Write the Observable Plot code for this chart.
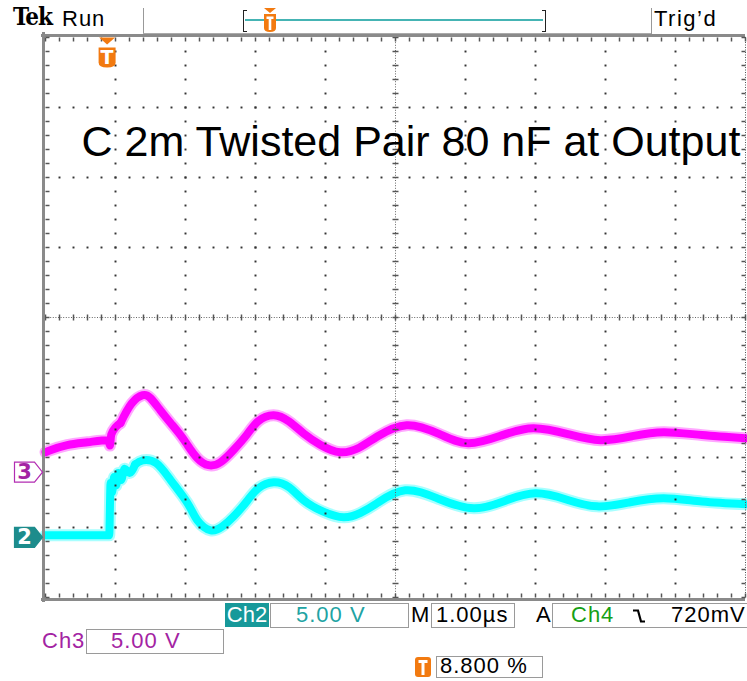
<!DOCTYPE html>
<html><head><meta charset="utf-8">
<script src="https://cdn.jsdelivr.net/npm/d3@7"></script>
<script src="https://cdn.jsdelivr.net/npm/@observablehq/plot@0.6"></script>
<style>
body{margin:0;background:#fff;}
#wrap{position:relative;width:747px;height:681px;overflow:hidden;font-family:"Liberation Sans",Arial,sans-serif;}
#wrap svg{position:absolute;left:0;top:0;}
.abs{position:absolute;white-space:nowrap;line-height:1;}
.box{position:absolute;border:1px solid #9a9a9a;box-sizing:border-box;background:#fff;}
.t{font-size:22px;letter-spacing:1px;}
</style></head><body><div id="wrap"></div>
<script>
// ---- scope settings ----
const timePerDiv = 1.0;        // µs / div
const voltsPerDiv = 5.0;       // V / div (Ch2 and Ch3)
const triggerPercent = 8.8;    // trigger position, % of record
const divisionsX = 10;
const divisionsY = 8;
const ch3Position = -2.21;     // ground marker "3", divisions from centre
const ch2Position = -3.14;     // ground marker "2", divisions from centre
const titleText = "C 2m Twisted Pair 80 nF at Output";

// ---- Ch3 (magenta) trace: time µs, volts ----
const ch3Time  = [-0.88,-0.81,-0.57,-0.28,0.02,0.04,0.06,0.19,0.35,0.51,0.62,0.76,0.91,1.05,1.15,1.29,1.45,1.62,1.81,2.00,2.16,2.38,2.60,2.81,3.05,3.33,3.60,3.86,4.28,4.75,5.16,5.62,6.09,6.60,7.05,7.50,7.95,8.50,9.12];
const ch3Volts = [1.43,1.57,1.93,2.14,2.29,1.90,2.70,3.50,4.90,5.50,5.29,4.43,3.50,2.64,1.93,1.00,0.50,0.71,1.60,2.70,3.65,4.07,3.62,2.76,1.95,1.43,1.75,2.55,3.36,2.72,2.07,2.60,3.14,2.70,2.29,2.57,2.86,2.65,2.43];
const ch3RingStart = 0.19;     // µs, where the smooth ringing begins

// ---- Ch2 (cyan) trace: time µs, volts ----
const ch2Time  = [-0.88,0.03,0.05,0.07,0.10,0.13,0.16,0.20,0.25,0.32,0.40,0.51,0.70,0.91,1.15,1.29,1.48,1.65,1.81,2.00,2.16,2.38,2.60,2.81,3.08,3.38,3.62,3.86,4.26,4.75,5.24,5.68,6.12,6.56,7.00,7.47,7.95,8.50,9.12];
const ch2Volts = [0.14,0.14,3.90,3.20,4.30,3.70,4.60,4.10,4.90,4.60,5.20,5.50,5.30,4.07,2.43,1.21,0.50,0.79,1.50,2.60,3.50,3.93,3.57,2.64,1.85,1.43,1.75,2.45,3.36,2.72,2.07,2.60,3.14,2.70,2.21,2.50,2.79,2.55,2.36];
const ch2RingStart = 0.40;

// ---- derived ----
const x0 = -triggerPercent / 100 * divisionsX * timePerDiv;
const x1 = x0 + divisionsX * timePerDiv;
const xc = x0 + divisionsX / 2 * timePerDiv;
const ch3 = ch3Time.map((t, i) => ({t, y: ch3Position + ch3Volts[i] / voltsPerDiv}));
const ch2 = ch2Time.map((t, i) => ({t, y: ch2Position + ch2Volts[i] / voltsPerDiv}));
const ch3Edge = ch3.filter(d => d.t <= ch3RingStart), ch3Ring = ch3.filter(d => d.t >= ch3RingStart);
const ch2Edge = ch2.filter(d => d.t <= ch2RingStart), ch2Ring = ch2.filter(d => d.t >= ch2RingStart);

const majorX = d3.range(0, divisionsX + 1).map(k => x0 + k * timePerDiv);
const minorX = d3.range(0, divisionsX * 5 + 1).map(k => x0 + k * timePerDiv / 5);
const majorY = d3.range(-divisionsY / 2, divisionsY / 2 + 1);
const minorY = d3.range(-divisionsY * 5 / 2, divisionsY * 5 / 2 + 1).map(k => k / 5);

const gridDots = [];
majorX.slice(1, -1).forEach((x, i) => { if (i + 1 === divisionsX / 2) return;
  minorY.slice(1, -1).forEach(y => { if (y !== 0) gridDots.push({x, y}); }); });
minorX.slice(1, -1).forEach(x => majorY.slice(1, -1).forEach(y => { if (y !== 0 && Math.abs(x - xc) > 1e-6) gridDots.push({x, y}); }));

const hDash = {draw(c, size) { const r = Math.sqrt(size / Math.PI); c.moveTo(-r, 0); c.lineTo(r, 0); }};
const vDash = {draw(c, size) { const r = Math.sqrt(size / Math.PI); c.moveTo(0, -r); c.lineTo(0, r); }};
const triDown = {draw(c, size) { const s = Math.sqrt(size / Math.PI) / 10; c.moveTo(-8 * s, -3.5 * s); c.lineTo(8 * s, -3.5 * s); c.lineTo(0, 3.5 * s); c.closePath(); }};
const shield = {draw(c, size) { const s = Math.sqrt(size / Math.PI) / 10;
  c.moveTo(-8.5 * s, -10 * s); c.lineTo(8.5 * s, -10 * s); c.lineTo(8.5 * s, 5 * s);
  c.quadraticCurveTo(8.5 * s, 10 * s, 0, 10 * s); c.quadraticCurveTo(-8.5 * s, 10 * s, -8.5 * s, 5 * s); c.closePath(); }};
const pent = {draw(c, size) { const s = Math.sqrt(size / Math.PI) / 10;
  c.moveTo(-14 * s, -10 * s); c.lineTo(6 * s, -10 * s); c.lineTo(14 * s, 0); c.lineTo(6 * s, 10 * s); c.lineTo(-14 * s, 10 * s); c.closePath(); }};

const ORANGE = "#f27a10";
const chMarkers = [
  {label: "3", y: ch3Position, fill: "#fff", stroke: "#b22cb2", text: "#a323a3"},
  {label: "2", y: ch2Position, fill: "#1d8c8c", stroke: "#1d8c8c", text: "#fff"}
];

function trace(edge, ring, halo, core) {
  return [
    Plot.line(edge, {x: "t", y: "y", stroke: halo, strokeWidth: 12, curve: "monotone-x"}),
    Plot.line(ring, {x: "t", y: "y", stroke: halo, strokeWidth: 12, curve: "natural"}),
    Plot.line(edge, {x: "t", y: "y", stroke: core, strokeWidth: 8, curve: "monotone-x"}),
    Plot.line(ring, {x: "t", y: "y", stroke: core, strokeWidth: 8, curve: "natural"})
  ];
}

const plot = Plot.plot({
  width: 747, height: 681,
  marginLeft: 45, marginRight: 2, marginTop: 37, marginBottom: 84,
  x: {domain: [x0, x1], axis: null},
  y: {domain: [-divisionsY / 2, divisionsY / 2], axis: null},
  style: {background: "transparent", overflow: "visible"},
  marks: [
    // traces
    ...trace(ch2Edge, ch2Ring, "#a8ffff", "#00ffff"),
    ...trace(ch3Edge, ch3Ring, "#ffa8ff", "#ff00ff"),
    // graticule dots
    Plot.dot(gridDots, {x: "x", y: "y", r: 1.1, symbol: "square", fill: "#333", stroke: "none"}),
    // centre cross
    Plot.ruleY([0], {stroke: "#666", strokeDasharray: "1,1.6"}),
    Plot.ruleX([xc], {stroke: "#666", strokeDasharray: "1,1.6"}),
    Plot.dot(minorX, {x: d => d, y: 0, symbol: vDash, r: 3, stroke: "#555", fill: "none"}),
    Plot.dot(minorY, {x: xc, y: d => d, symbol: hDash, r: 3, stroke: "#555", fill: "none"}),
    // border
    Plot.ruleX([x0], {stroke: "#8a8a8a", strokeWidth: 3, dx: -2, insetTop: -5, insetBottom: -5}),
    Plot.ruleY([divisionsY / 2], {stroke: "#8a8a8a", strokeWidth: 3, dy: -2, insetLeft: -4}),
    Plot.ruleY([-divisionsY / 2], {stroke: "#8a8a8a", strokeWidth: 3, dy: 2, insetLeft: -4}),
    Plot.ruleX([x1], {stroke: "#555", strokeDasharray: "1,1.5"}),
    Plot.dot(minorY, {x: x0, y: d => d, symbol: hDash, r: 2, dx: 2, stroke: "#555", fill: "none"}),
    Plot.dot(minorY, {x: x1, y: d => d, symbol: hDash, r: 2, dx: -2, stroke: "#555", fill: "none"}),
    Plot.dot(minorX, {x: d => d, y: divisionsY / 2, symbol: vDash, r: 2, dy: 2, stroke: "#555", fill: "none"}),
    Plot.dot(minorX, {x: d => d, y: -divisionsY / 2, symbol: vDash, r: 2, dy: -2, stroke: "#555", fill: "none"}),
    // title
    Plot.text([titleText], {text: d => d, frameAnchor: "top-left", textAnchor: "start", lineAnchor: "bottom", dx: 36, dy: 118,
      fontSize: 43, fontFamily: "Liberation Sans, Arial, sans-serif", fill: "#000"}),
    // trigger marker at t = 0
    Plot.dot([0], {x: d => d, y: divisionsY / 2, symbol: triDown, r: 10, dy: 3.5, fill: ORANGE, stroke: "none"}),
    Plot.dot([0], {x: d => d, y: divisionsY / 2, symbol: shield, r: 10, dy: 20, fill: ORANGE, stroke: "none"}),
    Plot.text([0], {x: d => d, y: divisionsY / 2, text: () => "T", dy: 20, fontSize: 19, fontWeight: "bold", fill: "#fff",
      fontFamily: "DejaVu Sans, sans-serif"}),
    // channel ground markers
    Plot.dot(chMarkers, {x: x0, y: "y", symbol: pent, r: 10, dx: -17, fill: "fill", stroke: "stroke", strokeWidth: 1.2}),
    Plot.text(chMarkers, {x: x0, y: "y", text: "label", dx: -21, fontSize: 21, fontWeight: "bold", fill: "text",
      fontFamily: "DejaVu Sans, sans-serif"})
  ]
});
const wrap = document.getElementById("wrap");
wrap.appendChild(plot);

// ---- header & footer readouts ----
const html = `
<div class="abs" style="left:13px;top:5px;font-family:'DejaVu Serif Condensed','DejaVu Serif',serif;font-weight:bold;font-size:24px;letter-spacing:-1px;">Tek</div>
<div class="abs t" style="left:62px;top:8px;">Run</div>
<div class="abs" style="left:143px;top:8px;width:1px;height:26px;background:#999;"></div>
<div class="abs" style="left:651px;top:8px;width:1px;height:26px;background:#999;"></div>
<div class="abs" style="left:143px;top:33px;width:508px;height:1px;background:#aaa;"></div>
<div class="abs" style="left:243px;top:10px;width:3px;height:20px;border:1px solid #222;border-right:none;"></div>
<div class="abs" style="left:542px;top:10px;width:3px;height:20px;border:1px solid #222;border-left:none;"></div>
<div class="abs" style="left:245px;top:19px;width:298px;height:2px;background:#45b4b4;"></div>
<svg class="abs" style="left:262px;top:8px;" width="16" height="26"><path d="M2,0H14L8,5Z" fill="${ORANGE}"/><path d="M2,6H14V20Q14,24 8,24Q2,24 2,20Z" fill="${ORANGE}"/><path d="M4.5,8.5H11.5V11H9.3V22H6.7V11H4.5Z" fill="#fff"/></svg>
<div class="abs t" style="left:654px;top:8px;letter-spacing:1.5px;">Trig’d</div>

<div class="abs t" style="left:225px;top:603px;width:44px;height:24px;background:#17999a;color:#fff;text-align:center;line-height:24px;letter-spacing:0;">Ch2</div>
<div class="box" style="left:270px;top:603px;width:139px;height:25px;"></div>
<div class="abs t" style="left:296px;top:604px;color:#21a3a3;">5.00 V</div>
<div class="abs t" style="left:411px;top:604px;">M</div>
<div class="box" style="left:431px;top:603px;width:84px;height:25px;"></div>
<div class="abs t" style="left:436px;top:604px;">1.00µs</div>
<div class="abs t" style="left:536px;top:604px;">A</div>
<div class="box" style="left:552px;top:603px;width:200px;height:25px;"></div>
<div class="abs t" style="left:571px;top:604px;color:#16a016;">Ch4</div>
<svg class="abs" style="left:632px;top:608px;" width="14" height="16"><path d="M1,2.5H6L9,13.5H13" stroke="#000" stroke-width="2.2" fill="none"/></svg>
<div class="abs t" style="left:671px;top:604px;">720mV</div>

<div class="abs t" style="left:42px;top:630px;color:#a323a3;">Ch3</div>
<div class="box" style="left:86px;top:629px;width:138px;height:25px;"></div>
<div class="abs t" style="left:111px;top:630px;color:#a323a3;">5.00 V</div>

<svg class="abs" style="left:415px;top:657px;" width="16" height="20"><rect x="0" y="0" width="16" height="20" rx="3" fill="${ORANGE}"/><path d="M3.5,3H12.5V6H9.5V18H6.5V6H3.5Z" fill="#fff"/></svg>
<div class="box" style="left:436px;top:656px;width:107px;height:22px;"></div>
<div class="abs t" style="left:440px;top:655px;">8.800 %</div>
`;
wrap.insertAdjacentHTML("beforeend", html);
</script>
</body></html>
